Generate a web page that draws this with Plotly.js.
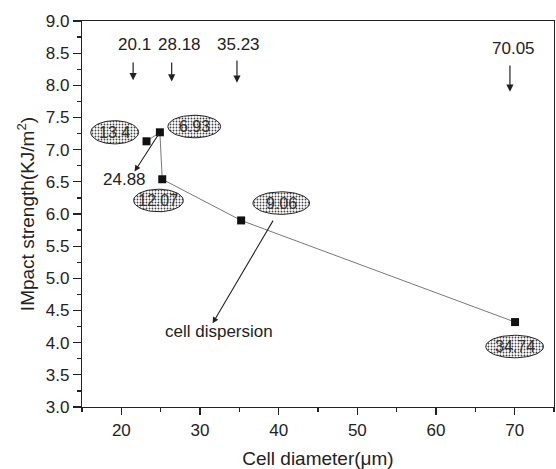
<!DOCTYPE html>
<html>
<head>
<meta charset="utf-8">
<script src="https://cdn.plot.ly/plotly-3.0.1.min.js"></script>
<style>html,body{margin:0;padding:0;background:#fff;}#chart{width:556px;height:469px;}</style>
</head>
<body>
<div id="chart"></div>
<script>
// Data
const cellDiameter = [23.2, 24.9, 25.2, 35.23, 70.05];
const impactStrength = [7.13, 7.27, 6.54, 5.90, 4.32];

// Top labels with down arrows
const topLabels = ['20.1', '28.18', '35.23', '70.05'];
const topLabelTextX = [21.68, 27.38, 34.89, 69.91];
const topLabelTextY = [8.63, 8.63, 8.63, 8.58];
const topArrowX = [21.5, 26.4, 34.7, 69.4];
const topArrowTipY = [8.08, 8.06, 8.04, 7.9];
const topArrowTailY = [8.38, 8.38, 8.41, 8.33];

// Ellipse labels
const ellipseLabels = ['13.4', '6.93', '12.07', '9.06', '34.74'];
const ellipseX = [19.15, 29.27, 24.72, 40.33, 70.0];
const ellipseY = [7.27, 7.36, 6.21, 6.17, 3.94];
const ellipseRx = [3.04, 3.35, 3.16, 3.6, 3.67];
const ellipseRy = [0.18, 0.175, 0.175, 0.175, 0.175];

const FONT = 'Liberation Sans, Arial, sans-serif';

function ellipseTrace(cx, cy, rx, ry) {
  const xs = [], ys = [];
  const n = 60;
  for (let i = 0; i <= n; i++) {
    const t = 2 * Math.PI * i / n;
    xs.push(cx + rx * Math.cos(t));
    ys.push(cy + ry * Math.sin(t));
  }
  return {
    x: xs, y: ys, type: 'scatter', mode: 'lines', fill: 'toself',
    line: {color: '#222', width: 1},
    fillcolor: '#ffffff',
    fillpattern: {shape: '.', fgcolor: '#444', bgcolor: '#ffffff', size: 3, solidity: 0.3},
    hoverinfo: 'skip', showlegend: false
  };
}

const traces = [];
for (let i = 0; i < ellipseLabels.length; i++) {
  traces.push(ellipseTrace(ellipseX[i], ellipseY[i], ellipseRx[i], ellipseRy[i]));
}
traces.push({
  x: cellDiameter, y: impactStrength, type: 'scatter', mode: 'lines+markers',
  line: {color: '#555', width: 0.8},
  marker: {symbol: 'square', size: 8, color: '#111'},
  showlegend: false
});

const annotations = [];
topLabels.forEach((t, i) => {
  annotations.push({x: topLabelTextX[i], y: topLabelTextY[i], xref: 'x', yref: 'y', text: t, showarrow: false,
    font: {family: FONT, size: 17, color: '#222'}});
  annotations.push({x: topArrowX[i], y: topArrowTipY[i], ax: topArrowX[i], ay: topArrowTailY[i],
    xref: 'x', yref: 'y', axref: 'x', ayref: 'y', text: '', showarrow: true,
    arrowhead: 2, arrowsize: 1.2, arrowwidth: 1.2, arrowcolor: '#222'});
});
ellipseLabels.forEach((t, i) => {
  annotations.push({x: ellipseX[i], y: ellipseY[i], xref: 'x', yref: 'y', text: t, showarrow: false,
    font: {family: FONT, size: 16, color: '#333'}});
});
// 24.88 label with arrow from point
annotations.push({x: 20.42, y: 6.54, xref: 'x', yref: 'y', text: '24.88', showarrow: false,
  font: {family: FONT, size: 17, color: '#222'}});
annotations.push({x: 21.68, y: 6.66, ax: cellDiameter[1], ay: impactStrength[1],
  xref: 'x', yref: 'y', axref: 'x', ayref: 'y', text: '', showarrow: true,
  arrowhead: 2, arrowsize: 1.1, arrowwidth: 1.1, arrowcolor: '#222'});
// cell dispersion
annotations.push({x: 32.44, y: 4.17, xref: 'x', yref: 'y', text: 'cell dispersion', showarrow: false,
  font: {family: FONT, size: 17, color: '#222'}});
annotations.push({x: 31.6, y: 4.30, ax: 39.4, ay: 5.92,
  xref: 'x', yref: 'y', axref: 'x', ayref: 'y', text: '', showarrow: true,
  arrowhead: 2, arrowsize: 1.1, arrowwidth: 1.1, arrowcolor: '#222'});

const layout = {
  width: 556, height: 469,
  margin: {l: 82, r: 2, t: 21, b: 62},
  paper_bgcolor: '#fff', plot_bgcolor: '#fff',
  font: {family: FONT, size: 17, color: '#222'},
  xaxis: {
    range: [15, 75], tick0: 0, dtick: 10, ticks: 'outside', ticklen: 7, tickwidth: 1.2, tickcolor: '#222',
    showline: true, linecolor: '#222', linewidth: 1.2, mirror: true, showgrid: false, zeroline: false,
    minor: {dtick: 5, ticks: 'outside', ticklen: 4, tickcolor: '#222', tickwidth: 1.2},
    tickfont: {family: FONT, size: 17, color: '#222'},
    title: {text: 'Cell diameter(μm)', font: {family: FONT, size: 19, color: '#222'}, standoff: 14}
  },
  yaxis: {
    range: [3, 9], tick0: 3, dtick: 0.5, tickformat: '.1f', ticks: 'outside', ticklen: 8, tickwidth: 1.2, tickcolor: '#222',
    showline: true, linecolor: '#222', linewidth: 1.2, mirror: true, showgrid: false, zeroline: false,
    minor: {dtick: 0.25, ticks: 'outside', ticklen: 4, tickcolor: '#222', tickwidth: 1.2},
    tickfont: {family: FONT, size: 17, color: '#222'},
    title: {text: 'IMpact strength(KJ/m<sup>2</sup>)', font: {family: FONT, size: 19, color: '#222'}, standoff: 6}
  },
  annotations: annotations
};

Plotly.newPlot('chart', traces, layout, {displayModeBar: false, staticPlot: true});
</script>
</body>
</html>
